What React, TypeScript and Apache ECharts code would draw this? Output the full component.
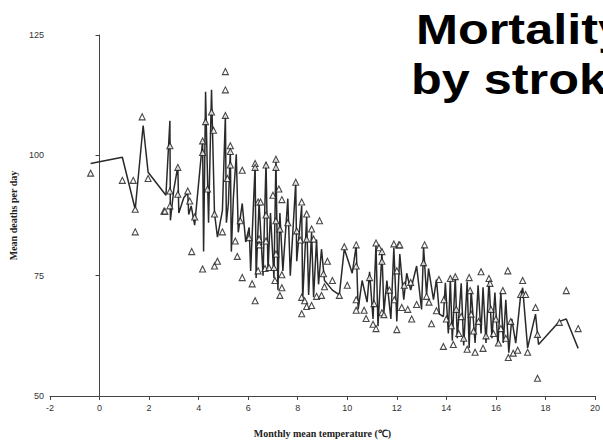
import React, { useEffect, useRef } from "react";
import * as echarts from "echarts";

const titleLines = ["Mortality", "by stroke"];
const xAxisName = "Monthly mean temperature (℃)";
const yAxisName = "Mean deaths per day";
const xTicks = { min: -2, max: 20, interval: 2 };
const yTicks = { min: 50, max: 125, interval: 25 };

// observed monthly values (triangles): [temperature, deaths]
const observed: [number, number][] = [
  [-0.36, 96.3], [0.92, 94.8], [1.36, 94.8], [1.44, 88.8], [1.44, 84.1], [1.72, 108], [1.96, 95.2],
  [2.6, 88.4], [2.64, 88.4], [2.84, 102], [2.84, 92.6], [2.84, 89.5], [3.16, 97.5], [3.16, 91.9],
  [3.56, 92.6], [3.64, 90.5], [3.72, 80], [3.84, 87.2], [4.16, 103], [4.16, 100.6], [4.16, 76.4],
  [4.28, 107], [4.36, 93], [4.52, 109], [4.6, 105.2], [4.64, 87.8], [4.64, 77], [4.76, 78],
  [4.96, 84.1], [5.08, 117.4], [5.08, 113.6], [5.08, 108.3], [5.16, 95.2], [5.28, 102], [5.28, 100.8],
  [5.28, 98], [5.48, 82.2], [5.56, 79], [5.68, 86.4], [5.76, 96.9], [5.76, 74.6], [6.04, 82.9],
  [6.16, 73.3], [6.28, 98.3], [6.28, 97.5], [6.28, 69.8], [6.4, 90.3], [6.5, 90.3], [6.4, 76],
  [6.44, 82.6], [6.44, 81.4], [6.72, 98], [6.72, 87.6], [6.72, 82.2], [6.68, 76.5], [6.84, 76.7],
  [7, 91.7], [7.04, 76.7], [7.08, 74], [7.12, 99.2], [7.12, 97.5], [7.12, 86.4], [7.12, 79.5],
  [7.24, 93], [7.28, 70.9], [7.28, 84.7], [7.36, 72.5], [7.36, 75.2], [7.36, 90.8], [7.6, 86],
  [7.92, 94.4], [7.96, 84.3], [8.16, 90.3], [8.16, 70.5], [8.16, 67.1], [8.1, 82.4], [8.28, 69.8],
  [8.36, 87.8], [8.36, 82.6], [8.36, 68.6], [8.56, 84.7], [8.56, 68.8], [8.64, 82.6], [8.76, 70.7],
  [8.88, 86.4], [8.96, 70.9], [9.04, 75.4], [9.08, 72.7], [9.2, 78], [9.4, 74], [9.68, 70.9],
  [9.88, 81], [10.0, 73], [10.36, 81.4], [10.36, 77], [10.36, 70], [10.36, 67.8], [10.68, 67.8],
  [10.76, 66.1], [10.9, 74.6], [11.08, 69.2], [11.04, 64.9], [11.16, 64], [11.16, 81.8], [11.28, 80.8],
  [11.4, 80], [11.4, 78], [11.4, 67.3], [11.48, 66.9], [11.7, 72], [11.88, 81.6], [11.9, 70],
  [12.08, 81.4], [12, 63.8], [12.0, 76], [12.12, 81.4], [12.2, 68.4], [12.3, 73], [12.44, 68],
  [12.56, 73.6], [12.6, 66], [12.8, 69], [13.12, 81.4], [13.08, 77.7], [13.2, 70.7], [13.3, 69.5],
  [13.4, 65], [13.6, 67.7], [13.7, 74.2], [13.88, 60.3], [13.9, 70], [14.0, 66], [14.16, 74.4],
  [14.2, 64.6], [14.36, 74.8], [14.28, 60.7], [14.4, 68], [14.5, 63], [14.6, 66.5], [14.7, 62],
  [14.84, 59.7], [14.92, 74.6], [14.96, 71.9], [15.0, 67], [15.1, 63.5], [15.16, 59.1], [15.3, 65.5],
  [15.4, 75.8], [15.48, 59.9], [15.6, 62.5], [15.72, 74.4], [15.76, 73.4], [15.8, 68], [15.9, 63],
  [16.0, 66], [16.1, 61], [16.2, 64], [16.28, 71.9], [16.4, 62], [16.48, 76], [16.5, 58],
  [16.6, 65.5], [16.7, 58.9], [16.88, 59.5], [17.08, 74], [17.0, 71.1], [17.1, 71.1], [17.2, 71.1],
  [17.28, 59.1], [17.6, 68.4], [17.68, 62.8], [17.68, 53.7], [18.56, 65.3], [18.84, 71.9], [19.32, 64],
];

// connected line: [temperature, deaths]
const connected: [number, number][] = [
  [-0.36, 98.3], [0.92, 99.6], [1.44, 88.8], [1.76, 106.2], [1.96, 96.5], [2.68, 91.7], [2.84, 107.2],
  [2.86, 86.5], [3.0, 93], [3.16, 97.7], [3.2, 88], [3.4, 91.2], [3.56, 92.2], [3.6, 87.7], [3.7, 89.5],
  [3.84, 85.5], [4.16, 103], [4.2, 80], [4.28, 113.2], [4.4, 86], [4.52, 113.6], [4.64, 88], [4.76, 83],
  [4.96, 88.5], [5.08, 108.3], [5.12, 86], [5.2, 90], [5.28, 101], [5.32, 80], [5.4, 91], [5.52, 100.2],
  [5.6, 84], [5.76, 90], [5.9, 82], [6.04, 85], [6.1, 76], [6.28, 98], [6.32, 74.5], [6.44, 90.3],
  [6.6, 75], [6.72, 98.5], [6.8, 76], [6.9, 88], [7.04, 74.5], [7.12, 99.2], [7.2, 72], [7.28, 88],
  [7.4, 76], [7.6, 91], [7.7, 75], [7.92, 94.4], [7.96, 78], [8.16, 89.5], [8.2, 70], [8.36, 87.2],
  [8.44, 71], [8.56, 84], [8.64, 70.5], [8.76, 82.5], [8.84, 73.2], [8.96, 80.5], [9.08, 74],
  [9.4, 72], [9.68, 71], [9.88, 80.6], [10.2, 75.5], [10.36, 81.2], [10.44, 68], [10.6, 74],
  [10.8, 69.5], [10.9, 75.8], [11.04, 66], [11.16, 81.4], [11.24, 64.5], [11.4, 80], [11.48, 67.5],
  [11.6, 74], [11.76, 66], [11.88, 80.8], [12.0, 65.5], [12.12, 79.5], [12.28, 70], [12.4, 75.5],
  [12.56, 72], [12.8, 77], [13.0, 68], [13.08, 81], [13.2, 71], [13.28, 76.5], [13.48, 70],
  [13.6, 74.2], [13.72, 67], [13.88, 66.5], [13.96, 73.5], [14.08, 63], [14.16, 74.4], [14.24, 61.5],
  [14.36, 74.8], [14.44, 62], [14.6, 73.4], [14.7, 60.5], [14.84, 73.8], [14.92, 60], [15.0, 72],
  [15.16, 61], [15.28, 73], [15.4, 63], [15.48, 72.6], [15.6, 61], [15.72, 74], [15.84, 62],
  [15.96, 71.5], [16.08, 60.5], [16.2, 71.5], [16.3, 61], [16.4, 70], [16.52, 59], [16.64, 66],
  [16.8, 61], [17.0, 71], [17.08, 72.5], [17.28, 60], [17.6, 67], [17.72, 60.7], [18.56, 65.5],
  [18.84, 66], [19.32, 59.9],
];

export default function App() {
  const ref = useRef<HTMLDivElement>(null);
  useEffect(() => {
    if (!ref.current) return;
    const chart = echarts.init(ref.current, null, { renderer: "svg" });
    const axisCommon = {
      axisLine: { show: true, lineStyle: { color: "#444", width: 1 } },
      axisTick: { show: true, length: 4, lineStyle: { color: "#444" } },
      splitLine: { show: false },
      axisLabel: { color: "#333", fontFamily: "Liberation Sans", fontSize: 9 },
      nameLocation: "middle" as const,
      nameTextStyle: {
        fontFamily: "Liberation Serif",
        fontWeight: "bold" as const,
        fontSize: 10,
        color: "#222",
      },
    };
    chart.setOption({
      animation: false,
      backgroundColor: "#ffffff",
      grid: { left: 49, right: 4, top: 35, bottom: 44, containLabel: false },
      xAxis: {
        type: "value",
        ...axisCommon,
        min: xTicks.min,
        max: xTicks.max,
        interval: xTicks.interval,
        name: xAxisName,
        nameGap: 32,
        axisLabel: { ...axisCommon.axisLabel, margin: 7 },
      },
      yAxis: {
        type: "value",
        ...axisCommon,
        min: yTicks.min,
        max: yTicks.max,
        interval: yTicks.interval,
        name: yAxisName,
        nameGap: 32,
        axisLabel: { ...axisCommon.axisLabel, margin: 6 },
      },
      series: [
        {
          type: "line",
          data: connected,
          showSymbol: false,
          symbol: "none",
          lineStyle: { color: "#2a2a2a", width: 1.5 },
          z: 2,
        },
        {
          type: "scatter",
          data: observed,
          symbol: "triangle",
          symbolSize: 6,
          itemStyle: { color: "#ffffff", borderColor: "#1a1a1a", borderWidth: 1.1 },
          z: 3,
        },
      ],
      graphic: [
        {
          type: "text",
          x: 416,
          y: 30,
          scaleX: 1.2,
          style: {
            text: titleLines[0],
            x: 0,
            y: 0,
            fontFamily: "Liberation Sans",
            fontWeight: "bold",
            fontSize: 42,
            fill: "#000",
            verticalAlign: "middle",
          },
        },
        {
          type: "text",
          x: 411,
          y: 80,
          scaleX: 1.2,
          style: {
            text: titleLines[1],
            x: 0,
            y: 0,
            fontFamily: "Liberation Sans",
            fontWeight: "bold",
            fontSize: 42,
            fill: "#000",
            verticalAlign: "middle",
          },
        },
      ],
    });
    return () => chart.dispose();
  }, []);
  return <div ref={ref} style={{ width: 603, height: 443, position: "fixed", left: 0, top: 0 }} />;
}
